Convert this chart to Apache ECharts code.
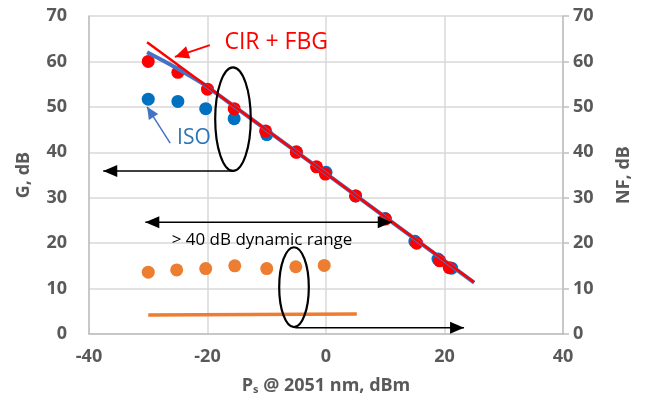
<!DOCTYPE html>
<html><head><meta charset="utf-8">
<script src="https://cdn.jsdelivr.net/npm/echarts@6/dist/echarts.min.js"></script>
<style>html,body{margin:0;padding:0;background:#fff}#c{width:646px;height:401px}</style>
</head><body><div id="c"></div>
<script>
// Data
var xTicks = [-40, -20, 0, 20, 40];
var yTicks = [0, 10, 20, 30, 40, 50, 60, 70];
var cirFbgPoints = [[-30,60],[-25,57.6],[-20,53.9],[-15.5,49.6],[-10.2,44.7],[-5,40],[-1.6,36.8],[-0.1,35.2],[5,30.4],[10,25.3],[15.3,20],[19.2,16.1],[20.8,14.6]];
var isoPoints = [[-30,51.7],[-25,51.2],[-20.3,49.6],[-15.5,47.4],[-10,43.9],[-5,40.1],[0,35.6],[5,30.4],[10,25.4],[15,20.4],[18.9,16.5],[21.2,14.5]];
var cirFbgFit = [[-30.2,64.2],[25,11.4]];
var isoFit = [[-30.2,62],[-27,59.8],[-24,57.6],[-20,54.4],[25,11.3]];
var nfPoints = [[-30,13.6],[-25.2,14.1],[-20.3,14.4],[-15.4,15],[-10,14.4],[-5.1,14.8],[-0.3,15.1]];
var nfLine = [[-30,4.2],[5.2,4.4]];

var chart = echarts.init(document.getElementById('c'));
var F = '"Open Sans", "Liberation Sans", sans-serif';
var lab = {color:'#595959', fontFamily:F, fontWeight:'bold', fontSize:18};
chart.setOption({
  animation:false,
  grid:{left:89, right:83, top:16, bottom:67},
  xAxis:{type:'value', min:-40, max:40, interval:20,
    axisLine:{onZero:false, lineStyle:{color:'#bfbfbf', width:1.5}}, axisTick:{show:false},
    splitLine:{show:true, lineStyle:{color:'#d9d9d9', width:1.5}},
    axisLabel:Object.assign({margin:14}, lab),
    name:'{a|P}{s|s}{a| @ 2051 nm, dBm}', nameLocation:'middle', nameGap:42,
    nameTextStyle:{rich:{a:lab, s:Object.assign({}, lab, {fontSize:11, padding:[8,0,0,0]})}}
  },
  yAxis:[
    {type:'value', min:0, max:70, interval:10,
     axisLine:{show:true, onZero:false, lineStyle:{color:'#bfbfbf', width:1.5}}, axisTick:{show:false},
     splitLine:{show:true, lineStyle:{color:'#d9d9d9', width:1.5}},
     axisLabel:Object.assign({margin:22}, lab),
     name:'G, dB', nameLocation:'middle', nameGap:56, nameTextStyle:lab},
    {type:'value', min:0, max:70, interval:10, position:'right',
     axisLine:{show:true, onZero:false, lineStyle:{color:'#bfbfbf', width:1.5}},
     axisTick:{show:true, length:6, lineStyle:{color:'#bfbfbf', width:1.5}},
     splitLine:{show:false},
     axisLabel:Object.assign({margin:10}, lab),
     name:'NF, dB', nameLocation:'middle', nameGap:52, nameTextStyle:lab, nameRotate:90}
  ],
  series:[
    {type:'scatter', data:nfPoints, yAxisIndex:1, symbolSize:13, itemStyle:{color:'#ED7D31', opacity:1}},
    {type:'line', data:nfLine, yAxisIndex:1, symbol:'none', lineStyle:{color:'#ED7D31', width:3.5}},
    {type:'scatter', data:isoPoints, symbolSize:13, itemStyle:{color:'#0070C0', opacity:1}},
    {type:'line', data:isoFit, symbol:'none', smooth:0.3, lineStyle:{color:'#4472C4', width:4}},
    {type:'scatter', data:cirFbgPoints, symbolSize:13, itemStyle:{color:'#FF0000', opacity:1}},
    {type:'line', data:cirFbgFit, symbol:'none', lineStyle:{color:'#FF0000', width:2.5}}
  ]
});

// Annotations in data coordinates
function P(x,y){return chart.convertToPixel({xAxisIndex:0,yAxisIndex:0},[x,y]);}
function arrowHead(tip, from, len, wid, color){
  var dx=tip[0]-from[0], dy=tip[1]-from[1], d=Math.sqrt(dx*dx+dy*dy); dx/=d; dy/=d;
  var bx=tip[0]-dx*len, by=tip[1]-dy*len;
  return {type:'polygon', shape:{points:[tip,[bx-dy*wid/2,by+dx*wid/2],[bx+dy*wid/2,by-dx*wid/2]]}, style:{fill:color}, z:100};
}
function arrow(a,b,color,w,len,wid,both){
  var pa=P(a[0],a[1]), pb=P(b[0],b[1]);
  var els=[{type:'line', shape:{x1:pa[0],y1:pa[1],x2:pb[0],y2:pb[1]}, style:{stroke:color,lineWidth:w}, z:100}, arrowHead(pb,pa,len,wid,color)];
  if(both) els.push(arrowHead(pa,pb,len,wid,color));
  return els;
}
function ellipse(cx,cy,rx,ry){
  var c=P(cx,cy), e=P(cx+rx,cy+ry);
  return {type:'ellipse', shape:{cx:c[0],cy:c[1],rx:Math.abs(e[0]-c[0]),ry:Math.abs(c[1]-e[1])}, style:{fill:null,stroke:'#000',lineWidth:2.2}, z:100};
}
function text(x,y,t,color,size){
  var p=P(x,y);
  return {type:'text', x:p[0], y:p[1], style:{text:t, fill:color, font:size+'px '+F, align:'center', verticalAlign:'middle'}, z:101};
}
var g=[];
g.push(ellipse(-15.7,47.3,3.0,11.4));
g=g.concat(arrow([-15.7,35.9],[-37.6,35.9],'#000',1.5,14,12));
g=g.concat(arrow([-30.5,24.6],[11.1,24.6],'#000',1.5,14,12,true));
g.push(ellipse(-5.4,10.3,2.5,8.8));
g=g.concat(arrow([-5.2,1.4],[23.3,1.4],'#000',1.5,14,12));
g=g.concat(arrow([-19.6,63.6],[-25.5,61.0],'#FF0000',2,14,13));
g=g.concat(arrow([-26.3,42.0],[-30.2,50.0],'#4472C4',1.5,12,11));
g.push(text(-8.4,64.1,'CIR + FBG','#FF0000',23));
g.push(text(-22.3,43.1,'ISO','#2E75B6',21));
g.push(text(-10.8,20.7,'> 40 dB dynamic range','#000',17));
chart.setOption({graphic:g});
</script></body></html>
